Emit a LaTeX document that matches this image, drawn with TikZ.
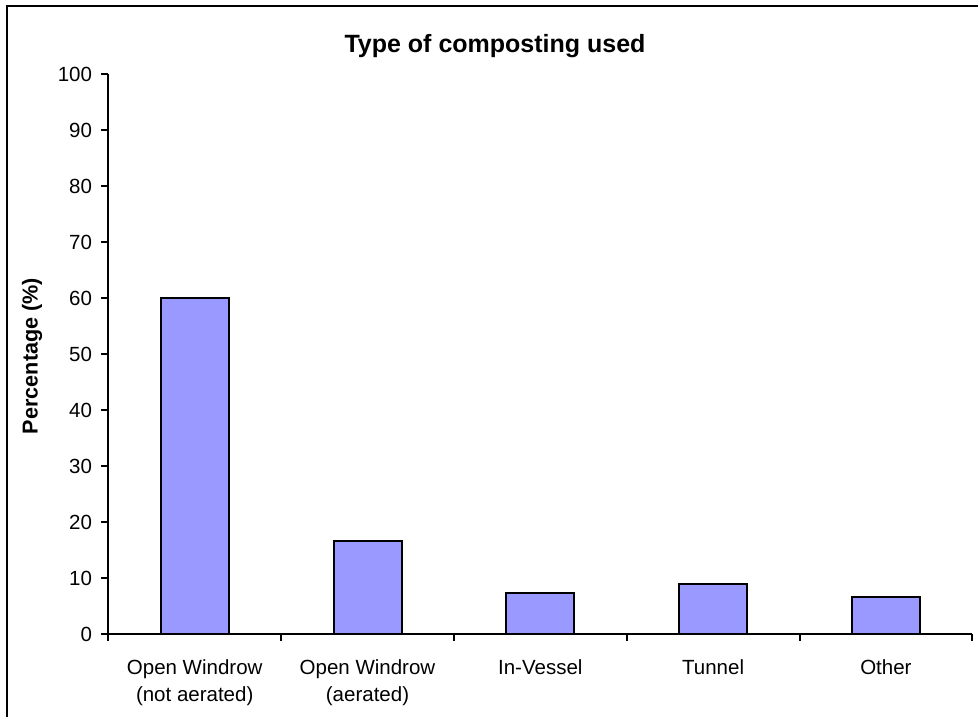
\documentclass[tikz,border=0pt]{standalone}
\usepackage{fontspec}
\setmainfont{Liberation Sans}
\usetikzlibrary{positioning}
\definecolor{barblue}{RGB}{153,153,255}

\begin{document}
\begin{tikzpicture}[x=0.5pt,y=-0.5pt,line width=1pt,
  bar/.style={draw=black,fill=barblue,line width=1pt},
  lab/.style={font=\fontsize{10.25}{13.5}\selectfont,inner sep=0pt,align=center}]
\useasboundingbox (0,0) rectangle (978,717);
% chart frame (left and top edges only)
\draw (7,717) -- (7,6) -- (978,6);
% axes
\coordinate (orig) at (108.3,634);
\coordinate (ytop) at (108.3,74.3);
\coordinate (xend) at (972.3,634);
\draw (ytop) -- (orig) -- (xend);
\foreach \v in {0,10,...,100} {
  \draw (101,{634-5.597*\v}) -- (108.3,{634-5.597*\v});
  \node[lab,anchor=east] (tick\v) at (93,{634-5.597*\v}) {\v};
}
\foreach \k in {0,...,5}
  \draw ({108.3+172.8*\k},634) -- ({108.3+172.8*\k},641);
% bars and category labels
\foreach \i/\val/\txt in {0/60/{Open Windrow\\(not aerated)},1/16.7/{Open Windrow\\(aerated)},
    2/7.4/In-Vessel,3/8.9/Tunnel,4/6.7/Other} {
  \draw[bar] ({108.3+172.8*(\i+0.5)-34},634) rectangle ({108.3+172.8*(\i+0.5)+34},{634-5.597*\val});
  \node[lab,anchor=north] (cat\i) at ({108.3+172.8*(\i+0.5)},659) {\txt};
}
\node[font=\bfseries\fontsize{12.5}{15}\selectfont] (title) at (495,46) {Type of composting used};
\node[rotate=90,font=\bfseries\fontsize{10.8}{13}\selectfont] (ylab) at (32,356) {Percentage (\%)};
\end{tikzpicture}
\end{document}
